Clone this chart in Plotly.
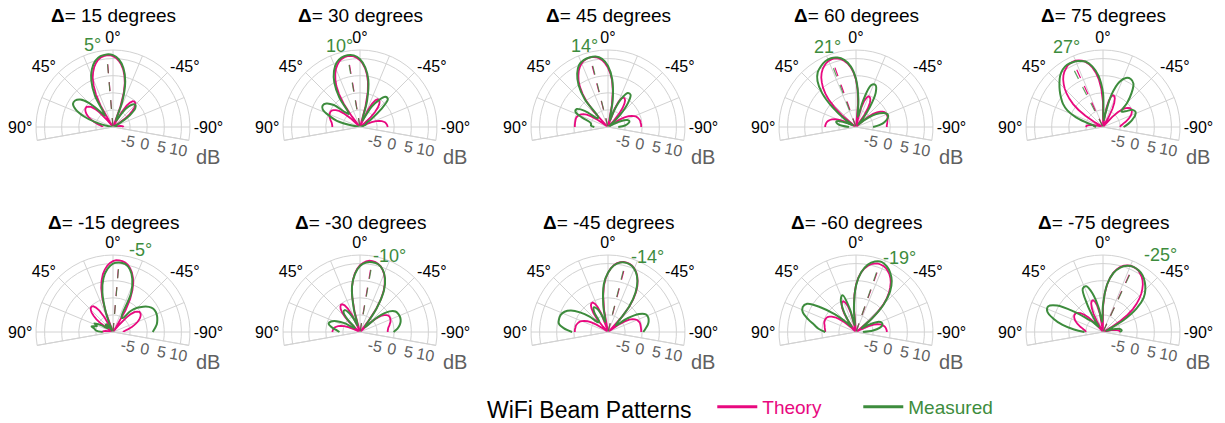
import numpy as np
import plotly.graph_objects as go

# ---------------- data ----------------
deltas = [15, 30, 45, 60, 75, -15, -30, -45, -60, -75]
measured_peak_deg = [5, 10, 14, 21, 27, -5, -10, -14, -19, -25]
theory_peak_deg = [4.8, 9.6, 14.5, 19.5, 24.6, -4.8, -9.6, -14.5, -19.5, -24.6]
peak_label = ['5°', '10°', '14°', '21°', '27°', '-5°', '-10°', '-14°', '-19°', '-25°']

# sampling angles (degrees)
theta_theory = np.arange(-90, 90.01, 2.5)   # 73 angles
theta_meas = np.arange(-90, 90.01, 5)       # 37 angles

# theory patterns (dB), read at 2.5 deg steps from -90 to 90
theory_p15 = [-6.9, -7, -7.3, -7.8, -8.6, -9.7, -10, -10, -10, -10, -10, -10, -10, -8, -5.7, -3.9, -2.6, -1.5, -0.8, -0.4,
              -0.3, -0.5, -1.3, -2.6, -5, -9.6, -10, -10, -3.7, 0.4, 3.3, 5.4, 7.1, 8.4, 9.4, 10.2, 10.7, 11, 11, 10.9,
              10.6, 10.1, 9.3, 8.3, 7, 5.5, 3.4, 0.8, -2.7, -8.2, -10, -10, -7.5, -4.3, -2.5, -1.3, -0.7, -0.3, -0.3, -0.4,
              -0.7, -1.1, -1.6, -2.2, -2.9, -3.6, -4.3, -5.0, -5.6, -6.2, -6.6, -6.9, -6.9]
theory_p30 = [-1.9, -2.0, -2.1, -2.3, -2.5, -2.9, -3.4, -4.1, -5.0, -6.3, -8.0, -10, -10, -10, -10, -10, -8.7, -5.8, -3.8, -2.3,
              -1.2, -0.6, -0.3, -0.4, -1.0, -2.3, -4.5, -8.9, -10, -10, -3.8, 0.5, 3.4, 5.5, 7.2, 8.5, 9.5, 10.2, 10.7, 11.0,
              11.0, 10.9, 10.6, 10.1, 9.3, 8.4, 7.1, 5.6, 3.8, 1.4, -1.7, -6.1, -10, -10, -10, -6.2, -3.8, -2.3, -1.4, -0.8,
              -0.4, -0.3, -0.3, -0.4, -0.5, -0.7, -1.0, -1.2, -1.5, -1.7, -1.8, -1.9, -1.9]
theory_p45 = [-0.3, -0.3, -0.3, -0.4, -0.4, -0.5, -0.7, -0.9, -1.2, -1.7, -2.3, -3.2, -4.4, -6.0, -8.5, -10, -10, -10, -10, -7.9,
              -5.0, -3.0, -1.6, -0.7, -0.3, -0.3, -0.9, -2.1, -4.3, -8.7, -10, -10, -3.5, 0.7, 3.6, 5.7, 7.3, 8.6, 9.6, 10.3,
              10.7, 11.0, 11.0, 10.9, 10.6, 10.1, 9.4, 8.5, 7.3, 6.0, 4.3, 2.2, -0.3, -3.8, -8.9, -10, -10, -9.9, -6.4, -4.2,
              -2.8, -1.9, -1.3, -0.8, -0.6, -0.4, -0.3, -0.3, -0.3, -0.3, -0.3, -0.3, -0.3]
theory_p60 = [-1, -1, -0.9, -0.8, -0.7, -0.6, -0.4, -0.3, -0.3, -0.3, -0.4, -0.6, -1, -1.6, -2.5, -3.7, -5.6, -8.3, -10, -10,
              -10, -9.9, -6.1, -3.6, -1.9, -0.9, -0.4, -0.3, -0.8, -2, -4.3, -8.9, -10, -10, -3.1, 0.9, 3.8, 5.9, 7.5, 8.7,
              9.6, 10.3, 10.7, 11, 11, 10.9, 10.6, 10.1, 9.5, 8.7, 7.7, 6.4, 5, 3.3, 1.2, -1.4, -4.7, -9.5, -10, -10,
              -10, -8.3, -6, -4.4, -3.4, -2.6, -2.1, -1.7, -1.4, -1.2, -1.1, -1, -1]
theory_p75 = [-5, -4.9, -4.7, -4.3, -3.9, -3.3, -2.8, -2.2, -1.7, -1.2, -0.8, -0.5, -0.3, -0.3, -0.4, -0.8, -1.4, -2.4, -3.9, -6.1,
              -9.7, -10, -10, -10, -6.9, -4, -2.2, -1, -0.4, -0.3, -0.8, -2.1, -4.5, -9.3, -10, -9.6, -2.7, 1.2, 4, 6,
              7.6, 8.8, 9.7, 10.3, 10.7, 11, 11, 10.9, 10.7, 10.2, 9.7, 9, 8.1, 7, 5.8, 4.4, 2.8, 1, -1.2, -3.9,
              -7.3, -10, -10, -10, -10, -10, -8.9, -7.5, -6.5, -5.8, -5.3, -5.1, -5]
theory_m15 = [-6.9, -6.9, -6.6, -6.2, -5.6, -5.0, -4.3, -3.6, -2.9, -2.2, -1.6, -1.1, -0.7, -0.4, -0.3, -0.3, -0.7, -1.3, -2.5, -4.3,
              -7.5, -10, -10, -8.2, -2.7, 0.8, 3.4, 5.5, 7, 8.3, 9.3, 10.1, 10.6, 10.9, 11, 11, 10.7, 10.2, 9.4, 8.4,
              7.1, 5.4, 3.3, 0.4, -3.7, -10, -10, -9.6, -5, -2.6, -1.3, -0.5, -0.3, -0.4, -0.8, -1.5, -2.6, -3.9, -5.7, -8,
              -10, -10, -10, -10, -10, -10, -10, -9.7, -8.6, -7.8, -7.3, -7, -6.9]
theory_m30 = [-1.9, -1.9, -1.8, -1.7, -1.5, -1.2, -1.0, -0.7, -0.5, -0.4, -0.3, -0.3, -0.4, -0.8, -1.4, -2.3, -3.8, -6.2, -10, -10,
              -10, -6.1, -1.7, 1.4, 3.8, 5.6, 7.1, 8.4, 9.3, 10.1, 10.6, 10.9, 11.0, 11.0, 10.7, 10.2, 9.5, 8.5, 7.2, 5.5,
              3.4, 0.5, -3.8, -10, -10, -8.9, -4.5, -2.3, -1.0, -0.4, -0.3, -0.6, -1.2, -2.3, -3.8, -5.8, -8.7, -10, -10, -10,
              -10, -10, -8.0, -6.3, -5.0, -4.1, -3.4, -2.9, -2.5, -2.3, -2.1, -2.0, -1.9]
theory_m45 = [-0.3, -0.3, -0.3, -0.3, -0.3, -0.3, -0.3, -0.4, -0.6, -0.8, -1.3, -1.9, -2.8, -4.2, -6.4, -9.9, -10, -10, -8.9, -3.8,
              -0.3, 2.2, 4.3, 6.0, 7.3, 8.5, 9.4, 10.1, 10.6, 10.9, 11.0, 11.0, 10.7, 10.3, 9.6, 8.6, 7.3, 5.7, 3.6, 0.7,
              -3.5, -10, -10, -8.7, -4.3, -2.1, -0.9, -0.3, -0.3, -0.7, -1.6, -3.0, -5.0, -7.9, -10, -10, -10, -10, -8.5, -6.0,
              -4.4, -3.2, -2.3, -1.7, -1.2, -0.9, -0.7, -0.5, -0.4, -0.4, -0.3, -0.3, -0.3]
theory_m60 = [-1, -1, -1.1, -1.2, -1.4, -1.7, -2.1, -2.6, -3.4, -4.4, -6, -8.3, -10, -10, -10, -9.5, -4.7, -1.4, 1.2, 3.3,
              5, 6.4, 7.7, 8.7, 9.5, 10.1, 10.6, 10.9, 11, 11, 10.7, 10.3, 9.6, 8.7, 7.5, 5.9, 3.8, 0.9, -3.1, -10,
              -10, -8.9, -4.3, -2, -0.8, -0.3, -0.4, -0.9, -1.9, -3.6, -6.1, -9.9, -10, -10, -10, -8.3, -5.6, -3.7, -2.5, -1.6,
              -1, -0.6, -0.4, -0.3, -0.3, -0.3, -0.4, -0.6, -0.7, -0.8, -0.9, -1, -1]
theory_m75 = [-5, -5.1, -5.3, -5.8, -6.5, -7.5, -8.9, -10, -10, -10, -10, -10, -7.3, -3.9, -1.2, 1, 2.8, 4.4, 5.8, 7,
              8.1, 9, 9.7, 10.2, 10.7, 10.9, 11, 11, 10.7, 10.3, 9.7, 8.8, 7.6, 6, 4, 1.2, -2.7, -9.6, -10, -9.3,
              -4.5, -2.1, -0.8, -0.3, -0.4, -1, -2.2, -4, -6.9, -10, -10, -10, -9.7, -6.1, -3.9, -2.4, -1.4, -0.8, -0.4, -0.3,
              -0.3, -0.5, -0.8, -1.2, -1.7, -2.2, -2.8, -3.3, -3.9, -4.3, -4.7, -4.9, -5]

# measured patterns (dB), read at 5 deg steps from -90 to 90
meas_p15 = [-9, -9, -9.5, -10, -10, -10, -8, -4, -1.5, -0.8, -1.5, -3.5, -7, -8, -2, 3.8, 7.5, 9.8, 11,
            11.3, 11, 10, 8, 5, 0.5, -6, -4, 0, 2.5, 3.5, 3.5, 2, -1, -5, -9, -10, -10]
meas_p30 = [-10, -10, -10, -10, -9, -8, -8, -6, -2, 1.5, 1.5, -0.5, -3, -7, -8, -2, 4, 7.5, 9.8,
            11, 11.3, 11, 10, 8, 5, 0.5, -5, -4, 0, 2, 2.6, 2, -0.5, -3, -8, -10, -10]
meas_p45 = [-7, -5, -4, -3.5, -4, -6, -9, -10, -9, -5, -1, 1.5, 1.5, -1, -5, -8, -2, 4, 7.8,
            10, 10.9, 11, 10.8, 10, 8, 5, 0.5, -6, -6, -2, 0.5, 0.5, -2, -4.5, -5, -5, -6]
meas_p60 = [-5, -3, -1.5, -0.5, 0, -0.5, -2, -4, -7, -9, -7, -3, 1.5, 3.5, 3, -2, -7, -2, 4,
            7.8, 9.9, 11, 11.4, 11.2, 10.5, 9.5, 7.5, 4, -1, -6, -9, -8, -5, -4, -4.5, -6, -8]
meas_p75 = [-4, -3, -2, -1, 0, 0.5, 0, -2, -3, 0, 3, 5.5, 6.2, 5.8, 4, 0, -6, -8, 0,
            5, 8, 9.8, 10.5, 10.9, 11, 10.5, 9.5, 8, 6.5, 5, 3.5, 1.5, -1.5, -5, -7, -7.5, -8]
meas_m15 = [1.6, 2.3, 3, 3.4, 3.7, 3.8, 3.6, 2.8, 1.5, 0, -2, -5, -5, 2.5, 6.5, 9, 10.2, 10.4, 10,
            8.5, 6, 2, -4, -9, -10, -9, -7, -7, -8, -8, -6, -4, -5, -3.5, -4.5, -5, -7]
meas_m30 = [-0.2, 1, 1.8, 2.3, 2.5, 2.4, 2, 0.5, -3, -8, -7, -1.5, 4, 7.3, 9.4, 10.5, 10.7, 10.4, 9.3,
            7, 3.5, -3, -8, -6, -3.5, -2.2, -2.5, -5, -8, -8, -5, -2.5, -1, -0.5, -1.5, -3, -4]
meas_m45 = [0.3, 1, 1.8, 2.3, 2.5, 2.2, 0.5, -3, -7, -6, -0.5, 4, 7.2, 9.3, 10.5, 10.9, 10.6, 9.5, 7.3,
            4, -2, -7, -5, -2.5, -1.7, -3, -6, -6, -3, 0, 2.5, 4, 4.7, 4.8, 4.6, 3, 0.5]
meas_m60 = [-8, -5, -3, -2, -2, -3, -6, -8, -4, 1.5, 5.5, 8.2, 10, 11.2, 11.8, 11.3, 10, 7.5, 3.5,
            -3, -8, -3, 1.4, 0.5, -2.5, -6, -8, -6, -2, 2.5, 6.5, 7.2, 6.5, 4.5, 2.5, 1, -1]
meas_m75 = [-5, -4.5, -5, -7, -9, -8, -3, 2, 5.5, 7.5, 9, 10.2, 10.8, 11, 10.6, 9.5, 7.5, 4, -2,
            -7, -3, 1.5, 4.2, 4, -1, -6, -8, -6, -4, 0.5, 5.5, 7.7, 7.3, 5, 2, -1.5, -4.6]

theory_series = [theory_p15, theory_p30, theory_p45, theory_p60, theory_p75,
                 theory_m15, theory_m30, theory_m45, theory_m60, theory_m75]
measured_series = [meas_p15, meas_p30, meas_p45, meas_p60, meas_p75,
                   meas_m15, meas_m30, meas_m45, meas_m60, meas_m75]

# ---------------- layout / style ----------------
W, H = 1225, 423
R = 77
cxs = [113, 360, 608, 856, 1103]
cys = [127, 332]
label_pos = [(92, 45), (339, 46), (584, 46), (827, 47), (1066, 47),
             (140, 250), (389, 256), (647, 257), (899, 258), (1160, 255)]
PINK = '#e8097f'
GREEN = '#3d8c3d'
GRID = '#d2d2d2'
MINOR = '#d9d9d9'
FONT = 'Liberation Sans, Arial, sans-serif'
RMIN, RMAX = -10, 12.5

fig = go.Figure()
layout = dict(width=W, height=H, margin=dict(l=0, r=0, t=0, b=0, autoexpand=False),
              paper_bgcolor='white', plot_bgcolor='white', showlegend=True)
annotations = []
for i, d in enumerate(deltas):
    cx = cxs[i % 5]
    cy = cys[i // 5]
    dom_x = [(cx - R) / W, (cx + R) / W]
    dom_y = [1 - (cy + R * np.sin(np.radians(10))) / H, 1 - (cy - R) / H]
    bg = 'polar' if i == 0 else f'polar{i + 1}'
    mn = f'polar{i + 11}'
    layout[bg] = dict(
        domain=dict(x=dom_x, y=dom_y), sector=[-10, 190], bgcolor='white',
        radialaxis=dict(range=[RMIN, RMAX], tickvals=[v for v in range(-9, 13) if v % 5 != 0],
                        showticklabels=False, ticks='', gridcolor=MINOR, griddash='dot',
                        showline=False),
        angularaxis=dict(rotation=90, direction='counterclockwise',
                         tickvals=list(np.arange(-99, 100, 4.5)), showticklabels=False,
                         ticks='', gridcolor=MINOR, griddash='dot', showline=False))
    layout[mn] = dict(
        domain=dict(x=dom_x, y=dom_y), sector=[-10, 190], bgcolor='rgba(0,0,0,0)',
        radialaxis=dict(range=[RMIN, RMAX], tickvals=[-5, 0, 5, 10], ticktext=['-5', '0', '5', '10'],
                        tickfont=dict(size=16, color='#606060', family=FONT), ticks='',
                        gridcolor=GRID, showline=False, angle=-10,
                        tickangle=0, side='clockwise'),
        angularaxis=dict(rotation=90, direction='counterclockwise',
                         tickvals=[-100, -90, -67.5, -45, -22.5, 0, 22.5, 45, 67.5, 90, 100],
                         ticktext=['', '-90°', '', '-45°', '', '0°', '', '45°', '', '90°', ''],
                         tickfont=dict(size=16, color='black', family=FONT), ticks='',
                         gridcolor=GRID, showline=True, linecolor=GRID))

    fig.add_trace(go.Scatterpolar(r=theory_series[i], theta=theta_theory, mode='lines', subplot=mn,
                                  line=dict(color=PINK, width=1.8), showlegend=False, hoverinfo='skip'))
    fig.add_trace(go.Scatterpolar(r=measured_series[i], theta=theta_meas, mode='lines', subplot=mn,
                                  line=dict(color=GREEN, width=2, shape='spline', smoothing=1),
                                  showlegend=False, hoverinfo='skip'))
    fig.add_trace(go.Scatterpolar(r=[RMIN, 10.5], theta=[theory_peak_deg[i]] * 2, mode='lines', subplot=mn,
                                  line=dict(color=PINK, width=1.2, dash='dash'), showlegend=False,
                                  hoverinfo='skip'))
    fig.add_trace(go.Scatterpolar(r=[RMIN, 10.5], theta=[measured_peak_deg[i]] * 2, mode='lines', subplot=mn,
                                  line=dict(color=GREEN, width=1.2, dash='dash'), opacity=0.8,
                                  showlegend=False, hoverinfo='skip'))

    annotations.append(dict(x=cx / W, y=1 - (15 if i < 5 else 222) / H, xref='paper', yref='paper',
                            xanchor='center', yanchor='middle',
                            text=f"<b>Δ</b>= {d} degrees", showarrow=False,
                            font=dict(size=19, color='black', family=FONT)))
    annotations.append(dict(x=(cx + 95) / W, y=1 - (cy + 30) / H, xref='paper', yref='paper',
                            xanchor='center', yanchor='middle', text='dB', showarrow=False,
                            font=dict(size=20, color='#606060', family=FONT)))
    lx, ly = label_pos[i]
    annotations.append(dict(x=lx / W, y=1 - ly / H, xref='paper', yref='paper',
                            xanchor='center', yanchor='middle', text=peak_label[i], showarrow=False,
                            font=dict(size=18, color=GREEN, family=FONT)))

# legend entries
fig.add_trace(go.Scatterpolar(r=[None], theta=[None], mode='lines', subplot='polar11',
                              line=dict(color=PINK, width=3),
                              name=f"<span style='color:{PINK}'>Theory</span>"))
fig.add_trace(go.Scatterpolar(r=[None], theta=[None], mode='lines', subplot='polar11',
                              line=dict(color=GREEN, width=3),
                              name=f"<span style='color:{GREEN}'>Measured</span>"))

layout['annotations'] = annotations
layout['legend'] = dict(orientation='h', x=485 / W, y=1 - 408 / H, yanchor='middle', xanchor='left',
                        title=dict(text='WiFi Beam Patterns&nbsp;&nbsp;',
                                   font=dict(size=23, color='black', family=FONT)),
                        font=dict(size=19, family=FONT), itemwidth=40, entrywidth=91,
                        bgcolor='rgba(0,0,0,0)')
fig.update_layout(**layout)
fig.write_html("out.html", config={'displayModeBar': False},
               post_script="document.body.style.margin='0';document.body.style.padding='0';")
